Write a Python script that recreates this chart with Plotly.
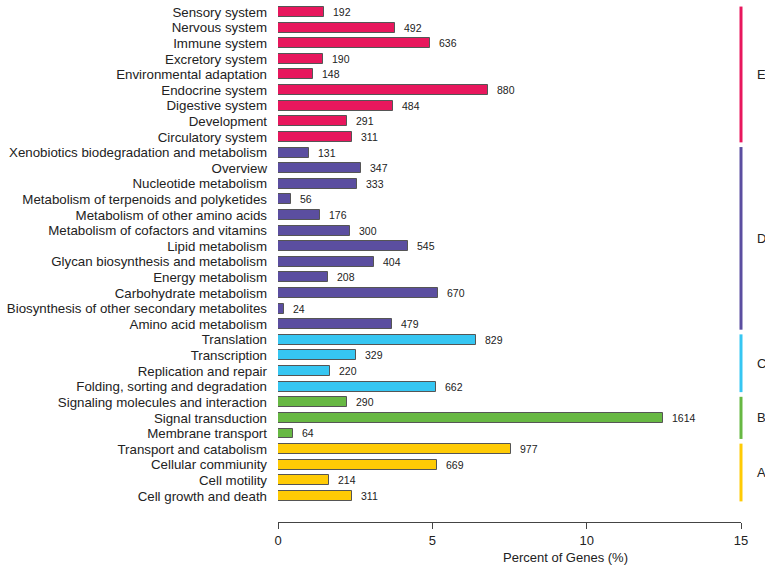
import plotly.graph_objects as go

# Pathways listed bottom -> top
pathways = [
    "Cell growth and death", "Cell motility", "Cellular commiunity", "Transport and catabolism",
    "Membrane transport", "Signal transduction", "Signaling molecules and interaction",
    "Folding, sorting and degradation", "Replication and repair", "Transcription", "Translation",
    "Amino acid metabolism", "Biosynthesis of other secondary metabolites", "Carbohydrate metabolism",
    "Energy metabolism", "Glycan biosynthesis and metabolism", "Lipid metabolism",
    "Metabolism of cofactors and vitamins", "Metabolism of other amino acids",
    "Metabolism of terpenoids and polyketides", "Nucleotide metabolism", "Overview",
    "Xenobiotics biodegradation and metabolism",
    "Circulatory system", "Development", "Digestive system", "Endocrine system",
    "Environmental adaptation", "Excretory system", "Immune system", "Nervous system", "Sensory system",
]
gene_counts = [
    311, 214, 669, 977,
    64, 1614, 290,
    662, 220, 329, 829,
    479, 24, 670, 208, 404, 545, 300, 176, 56, 333, 347, 131,
    311, 291, 484, 880, 148, 190, 636, 492, 192,
]
groups = ["A"] * 4 + ["B"] * 3 + ["C"] * 4 + ["D"] * 12 + ["E"] * 9
total_genes = 12950  # approximate total annotated genes

group_names = ["A", "B", "C", "D", "E"]
group_colors = {"A": "#FFCB05", "B": "#67B843", "C": "#36C6F2", "D": "#5B4EA0", "E": "#E8175D"}

percents = [c / total_genes * 100 for c in gene_counts]
ypos = list(range(len(pathways)))

Y_LO, Y_HI = -1.67, 31.77

fig = go.Figure()
fig.add_trace(go.Bar(
    x=percents, y=ypos, orientation="h", width=0.64,
    marker=dict(color=[group_colors[g] for g in groups], line=dict(color="#555555", width=1)),
    hoverinfo="skip", showlegend=False,
))

annotations = []
for p, y, c in zip(percents, ypos, gene_counts):
    annotations.append(dict(x=p, y=y, xref="x", yref="y", text=str(c), showarrow=False,
                            xanchor="left", xshift=7, font=dict(size=10.5, color="#222222")))

shapes = []
for g in group_names:
    idx = [i for i, gg in enumerate(groups) if gg == g]
    lo, hi = min(idx) - 0.35, max(idx) + 0.35
    shapes.append(dict(type="line", xref="paper", yref="paper", x0=1, x1=1,
                       y0=(lo - Y_LO) / (Y_HI - Y_LO), y1=(hi - Y_LO) / (Y_HI - Y_LO),
                       line=dict(color=group_colors[g], width=3)))
    annotations.append(dict(x=15, y=(lo + hi) / 2, xref="x", yref="y", text=g, showarrow=False,
                            xanchor="left", xshift=14, font=dict(size=13, color="#222222")))

# axis title, centred at ~565px, ~557px from top
annotations.append(dict(x=(565 - 278) / (765 - 278 - 24), y=-(557 - 522) / 522,
                        xref="paper", yref="paper", text="Percent of Genes (%)",
                        showarrow=False, yanchor="middle", font=dict(size=13, color="#222222")))

fig.update_layout(
    width=765, height=568,
    margin=dict(l=278, r=24, t=0, b=46),
    plot_bgcolor="white", paper_bgcolor="white",
    font=dict(family="Liberation Sans, Arial, sans-serif", color="#222222"),
    bargap=0,
    shapes=shapes,
    annotations=annotations,
)

fig.update_xaxes(
    range=[0, 15], tickvals=[0, 5, 10, 15], showgrid=False, zeroline=False,
    showline=True, linecolor="#444444", linewidth=1,
    ticks="outside", ticklen=6, tickcolor="#444444",
    tickfont=dict(size=13, color="#222222"),
)
fig.update_yaxes(
    range=[Y_LO, Y_HI], tickvals=ypos, ticktext=pathways, showgrid=False, zeroline=False,
    showline=False, ticks="", ticklabelstandoff=10, tickfont=dict(size=13.3, color="#222222"),
)

fig.write_html("out.html")
